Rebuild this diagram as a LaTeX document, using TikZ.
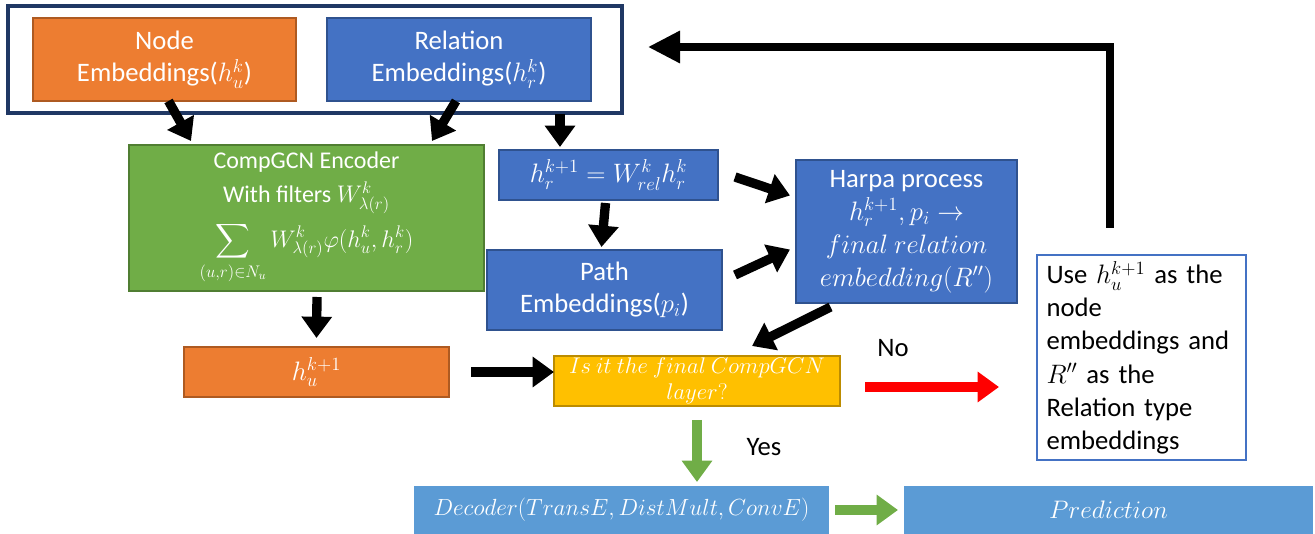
\RequirePackage{fix-cm}
\documentclass[tikz,border=0pt]{standalone}
\DeclareFontShape{OMX}{cmex}{m}{n}{<-> cmex10}{}
\usepackage{fontspec}
\setmainfont{Carlito}
\usetikzlibrary{arrows.meta}

\definecolor{cOrange}{HTML}{ED7D31}
\definecolor{cOrangeD}{HTML}{AE5A21}
\definecolor{cBlue}{HTML}{4472C4}
\definecolor{cBlueD}{HTML}{2F528F}
\definecolor{cGreen}{HTML}{70AD47}
\definecolor{cGreenD}{HTML}{507E32}
\definecolor{cYellow}{HTML}{FFC000}
\definecolor{cYellowD}{HTML}{BC8C00}
\definecolor{cSky}{HTML}{5B9BD5}
\definecolor{cNavy}{HTML}{203864}
\definecolor{cRed}{HTML}{FF0000}

\tikzset{
  wh/.style 2 args={minimum width=#1*0.75pt, minimum height=#2*0.75pt,
    inner sep=0pt, outer sep=0pt, align=center},
  fbox/.style={line width=0.8pt, text=white,
    font=\fontsize{20}{24.5}\selectfont},
  orangebox/.style={fbox, fill=cOrange, draw=cOrangeD},
  bluebox/.style={fbox, fill=cBlue, draw=cBlueD},
  greenbox/.style={fbox, fill=cGreen, draw=cGreenD},
  yellowbox/.style={fbox, fill=cYellow, draw=cYellowD},
  skybox/.style={fbox, fill=cSky, draw=cSky},
  notebox/.style={draw=cBlue, line width=0.9pt, fill=white, text=black,
    font=\fontsize{20}{24.8}\selectfont},
  fat/.style={line width=7pt, draw=#1,
    -{Triangle[length=16pt,width=22pt]}},
  fat/.default=black,
  feedback/.style={line width=5.5pt, line join=miter,
    -{Triangle[length=24pt,width=23pt]}},
  lbl/.style={font=\fontsize{20}{24}\selectfont, text=black}
}

\begin{document}
\begin{tikzpicture}[x=0.75pt,y=-0.75pt]
\useasboundingbox (0,0) rectangle (1315,534);

% input group frame
\node[wh={614}{107}, draw=cNavy, line width=3pt] (frame) at (315,59.5) {};
\node[wh={263}{83}, orangebox] (ne) at (164.5,59.5) {Node\\Embeddings($h_u^k$)};
\node[wh={264}{83}, bluebox] (re) at (459,59.5) {Relation\\Embeddings($h_r^k$)};

% encoder
\node[wh={355}{146}, greenbox, font=\fontsize{18}{22}\selectfont] (enc) at (306.5,218)
  {CompGCN Encoder\\[3pt]
   With filters $W^k_{\lambda(r)}$\\[5pt]
   $\displaystyle\sum_{(u,r)\in N_u} W^k_{\lambda(r)}\varphi(h^k_u,h^k_r)$};

% relation update and paths
\node[wh={219}{50}, bluebox] (hr) at (608.5,175) {$h_r^{k+1}=W_{rel}^k h_r^k$};
\node[wh={235}{80}, bluebox] (path) at (604.5,290) {Path\\Embeddings($p_i$)};
\node[wh={221}{143}, bluebox, font=\fontsize{20}{24.8}\selectfont] (harpa) at (906.5,231.5)
  {Harpa process\\
   $h_r^{k+1},p_i\rightarrow$\\
   $final\ relation$\\
   $embedding(R'')$};

% node update and decision
\node[wh={265}{50}, orangebox] (hu) at (316.5,372) {$h_u^{k+1}$};
\node[wh={286}{50}, yellowbox, font=\fontsize{17}{19}\selectfont] (ask) at (697,381)
  {$Is\ it\ the\ final\ CompGCN$\\$layer?$};

% feedback note
\node[wh={209}{205}, notebox, align=left, text width=190*0.75pt] (use) at (1141.5,357.5)
  {Use $h_u^{k+1}$ as the\\
   node\\
   embeddings and\\
   $R''$ as the\\
   Relation type\\
   embeddings};

% decoding
\node[wh={413}{46}, skybox, font=\fontsize{17.5}{20}\selectfont] (dec) at (621.5,510)
  {$Decoder(TransE, DistMult, ConvE)$};
\node[wh={407}{46}, skybox, font=\fontsize{19}{22}\selectfont] (pred) at (1108.5,510)
  {$Prediction$};

% connectors
\draw[fat] ([shift={(4,0)}]ne.south) -- ([shift={(62,-4)}]enc.north west);
\draw[fat] ([shift={(-3,0)}]re.south) -- ([shift={(-52,-4)}]enc.north east);
\draw[fat] ([shift={(245,1)}]frame.south) -- ([shift={(-48.5,-3)}]hr.north);
\draw[fat] ([shift={(-3,3)}]hr.south) -- ([shift={(-3,-3)}]path.north);
\draw[fat] ([shift={(17,2)}]hr.east) -- ([shift={(-6,-36)}]harpa.west);
\draw[fat] ([shift={(13,-15)}]path.east) -- ([shift={(-6,18)}]harpa.west);
\draw[fat] ([shift={(-76,4)}]harpa.south) -- ([shift={(55,-10)}]ask.north);
\draw[fat] ([shift={(10.5,6)}]enc.south) -- ([shift={(0,-9)}]hu.north);
\draw[fat] ([shift={(22,0)}]hu.east) -- ([shift={(0,-9)}]ask.west);
\draw[fat=cRed] ([shift={(25,6)}]ask.east) -- ([shift={(-38,29.5)}]use.west);
\draw[fat=cGreen] ([shift={(0,14)}]ask.south) -- ([shift={(75.5,-5)}]dec.north);
\draw[fat=cGreen] ([shift={(7,0)}]dec.east) -- ([shift={(-7,0)}]pred.west);
\draw[feedback] ([shift={(-31.5,-27)}]use.north) |- ([shift={(26,-12.5)}]frame.east);

% branch labels
\node[lbl] (no) at (893,348) {No};
\node[lbl] (yes) at (764,447) {Yes};
\end{tikzpicture}
\end{document}
